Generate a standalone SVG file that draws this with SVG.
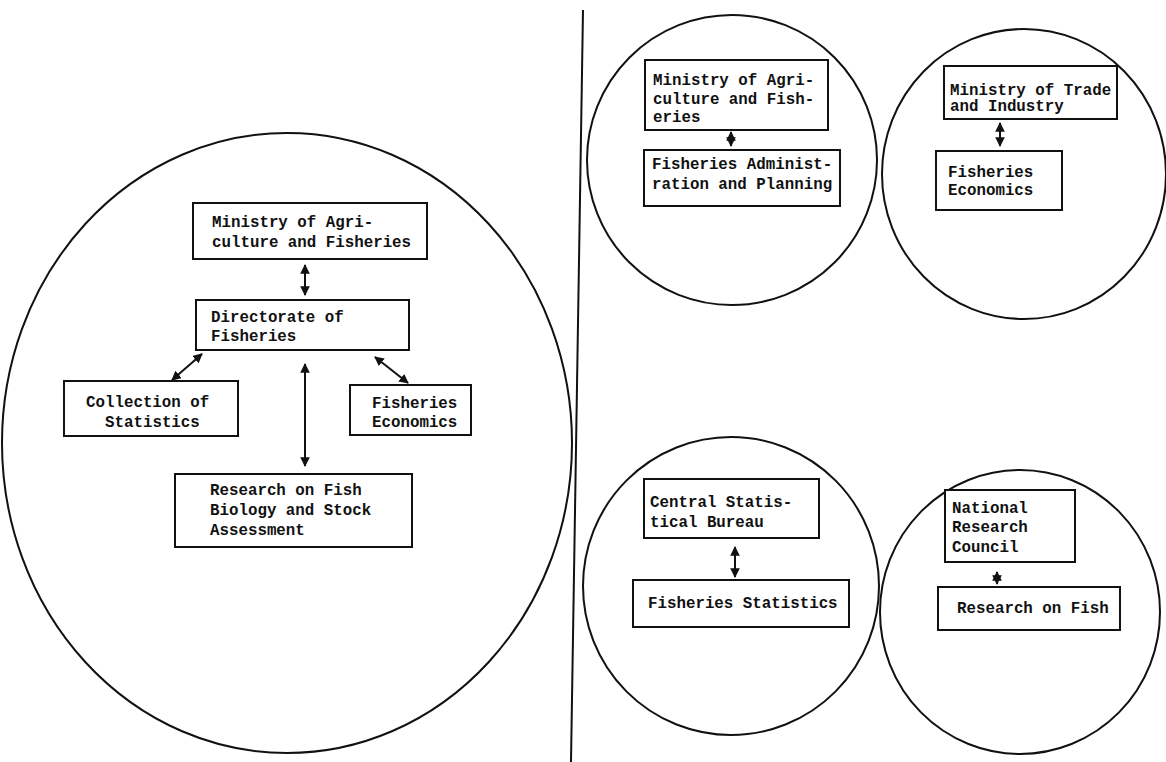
<svg xmlns="http://www.w3.org/2000/svg" width="1166" height="762" viewBox="0 0 1166 762">
<style>
.c{fill:none;stroke:#111;stroke-width:2}
.b{fill:#fff;stroke:#111;stroke-width:2}
.t{font-family:"Liberation Mono","DejaVu Sans Mono",monospace;font-weight:bold;font-size:15.8px;fill:#111}
.a{stroke:#111;stroke-width:2;fill:none;marker-start:url(#ah);marker-end:url(#ah)}
</style>
<defs>
<marker id="ah" viewBox="0 0 10 10" refX="9" refY="5" markerWidth="4.8" markerHeight="4.8" orient="auto-start-reverse" markerUnits="strokeWidth">
<path d="M0,0 L10,5 L0,10 z" fill="#111"/>
</marker>
</defs>
<rect width="1166" height="762" fill="#fff"/>
<g id="frame">
<ellipse class="c" cx="287" cy="443" rx="285" ry="310"/>
<line x1="583" y1="10" x2="571" y2="762" stroke="#111" stroke-width="2"/>
<circle class="c" cx="732" cy="160" r="145"/>
<ellipse class="c" cx="1024" cy="174" rx="142" ry="145"/>
<ellipse class="c" cx="731" cy="586" rx="148" ry="149"/>
<ellipse class="c" cx="1020" cy="612" rx="140" ry="142"/>
</g>
<g id="connectors">
<line class="a" x1="305" y1="265" x2="305" y2="295"/>
<line class="a" x1="202" y1="354" x2="172" y2="380"/>
<line class="a" x1="375" y1="357" x2="408" y2="383"/>
<line class="a" x1="305" y1="364" x2="305" y2="466"/>
<line class="a" x1="731" y1="132" x2="731" y2="146"/>
<line class="a" x1="1000" y1="123" x2="1000" y2="146"/>
<line class="a" x1="735" y1="547" x2="735" y2="577"/>
<line class="a" x1="997" y1="572" x2="997" y2="584"/>
</g>
<g id="n1"><rect class="b" x="193" y="203" width="234" height="56"/>
<text class="t" x="212" y="227">Ministry of Agri-</text><text class="t" x="212" y="247">culture and Fisheries</text></g>
<g id="n2"><rect class="b" x="196" y="300" width="213" height="50"/>
<text class="t" x="211" y="322">Directorate of</text><text class="t" x="211" y="341">Fisheries</text></g>
<g id="n3"><rect class="b" x="64" y="381" width="174" height="55"/>
<text class="t" x="86" y="407">Collection of</text><text class="t" x="105" y="427">Statistics</text></g>
<g id="n4"><rect class="b" x="350" y="385" width="121" height="50"/>
<text class="t" x="372" y="408">Fisheries</text><text class="t" x="372" y="427">Economics</text></g>
<g id="n5"><rect class="b" x="175" y="474" width="237" height="73"/>
<text class="t" x="210" y="495">Research on Fish</text><text class="t" x="210" y="515">Biology and Stock</text><text class="t" x="210" y="535">Assessment</text></g>
<g id="n6"><rect class="b" x="645" y="60" width="183" height="70"/>
<text class="t" x="653" y="85">Ministry of Agri-</text><text class="t" x="653" y="104">culture and Fish-</text><text class="t" x="653" y="122">eries</text></g>
<g id="n7"><rect class="b" x="644" y="150" width="196" height="56"/>
<text class="t" x="652" y="169">Fisheries Administ-</text><text class="t" x="652" y="189">ration and Planning</text></g>
<g id="n8"><rect class="b" x="944" y="66" width="173" height="53"/>
<text class="t" x="950" y="95">Ministry of Trade</text><text class="t" x="950" y="111">and Industry</text></g>
<g id="n9"><rect class="b" x="936" y="151" width="126" height="59"/>
<text class="t" x="948" y="177">Fisheries</text><text class="t" x="948" y="195">Economics</text></g>
<g id="n10"><rect class="b" x="644" y="479" width="175" height="59"/>
<text class="t" x="650" y="507">Central Statis-</text><text class="t" x="650" y="527">tical Bureau</text></g>
<g id="n11"><rect class="b" x="633" y="580" width="216" height="47"/>
<text class="t" x="648" y="608">Fisheries Statistics</text></g>
<g id="n12"><rect class="b" x="945" y="490" width="130" height="72"/>
<text class="t" x="952" y="513">National</text><text class="t" x="952" y="532">Research</text><text class="t" x="952" y="552">Council</text></g>
<g id="n13"><rect class="b" x="938" y="587" width="182" height="43"/>
<text class="t" x="957" y="613">Research on Fish</text></g>
</svg>
